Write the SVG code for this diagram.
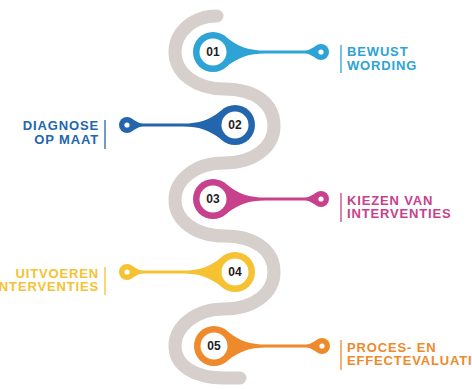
<svg xmlns="http://www.w3.org/2000/svg" xmlns:xlink="http://www.w3.org/1999/xlink" width="472" height="389" viewBox="0 0 472 389">
  <style>
    .band { fill: none; stroke: #D6CFCC; stroke-width: 13; stroke-linecap: round; }
    .lbl { font-family: "Liberation Sans", Arial, sans-serif; font-weight: bold; font-size: 13px; letter-spacing: 0.85px; }
    .num { font-family: "Liberation Sans", Arial, sans-serif; font-weight: bold; font-size: 12px; fill: #1E1E1E; text-anchor: middle; }
    .end { text-anchor: end; }
    .c1 { fill: #2EA3D6; } .s1 { stroke: #2EA3D6; }
    .c2 { fill: #2366AE; } .s2 { stroke: #2366AE; }
    .c3 { fill: #C8418C; } .s3 { stroke: #C8418C; }
    .c4 { fill: #F6C231; } .s4 { stroke: #F6C231; }
    .c5 { fill: #EE8A2B; } .s5 { stroke: #EE8A2B; }
    .bar { stroke-width: 1.3; }
  </style>
  <defs>
    <g id="pin">
      <path d="M 14,-14.3 C 26,-5 36,-1.5 52,-1.5 L 92,-1.5 C 97,-1.5 100,-5 104,-6.5 L 104,6.5 C 100,5 97,1.5 92,1.5 L 52,1.5 C 36,1.5 26,5 14,14.3 Z"/>
      <circle cx="0" cy="0" r="20"/>
      <circle cx="108" cy="0" r="8"/>
      <circle cx="0" cy="0" r="13.5" fill="#FFFFFF"/>
      <circle cx="108" cy="0" r="2.6" fill="#FFFFFF"/>
    </g>
  </defs>
  <rect width="472" height="389" fill="#FFFFFF"/>

  <g id="connectors">
    <path class="band" d="M 217 16 C 192 16 175 33 175 52 C 175 73 196 89 224 89 C 256 89 274 104 274 126 C 274 147 254 163 224 163 C 195 163 175 180 175 200 C 175 220 195 236 224 236 C 256 236 274 251 274 272 C 274 293 254 309 224 309 C 195 309 175 327 175 346 C 175 366 195 378 224 378 L 240 378"/>
  </g>

  <g id="node-01">
    <use xlink:href="#pin" class="c1" transform="translate(213,52)"/>
    <text class="num" x="213" y="56.3">01</text>
    <line class="bar s1" x1="341" y1="45" x2="341" y2="73"/>
    <text class="lbl c1" x="347" y="56.3">BEWUST</text>
    <text class="lbl c1" x="347" y="69.8">WORDING</text>
  </g>

  <g id="node-02">
    <use xlink:href="#pin" class="c2" transform="translate(235,125) scale(-1,1)"/>
    <text class="num" x="235" y="129.3">02</text>
    <line class="bar s2" x1="105" y1="120" x2="105" y2="149"/>
    <text class="lbl c2 end" x="99" y="130.3">DIAGNOSE</text>
    <text class="lbl c2 end" x="99" y="144.3">OP MAAT</text>
  </g>

  <g id="node-03">
    <use xlink:href="#pin" class="c3" transform="translate(213,199)"/>
    <text class="num" x="213" y="203.3">03</text>
    <line class="bar s3" x1="341" y1="193" x2="341" y2="222"/>
    <text class="lbl c3" x="347" y="204.8">KIEZEN VAN</text>
    <text class="lbl c3" x="347" y="218.3">INTERVENTIES</text>
  </g>

  <g id="node-04">
    <use xlink:href="#pin" class="c4" transform="translate(235,272) scale(-1,1)"/>
    <text class="num" x="235" y="276.3">04</text>
    <line class="bar s4" x1="105" y1="267" x2="105" y2="295"/>
    <text class="lbl c4 end" x="99" y="277.8">UITVOEREN</text>
    <text class="lbl c4 end" x="99" y="291.3">INTERVENTIES</text>
  </g>

  <g id="node-05">
    <use xlink:href="#pin" class="c5" transform="translate(214,346)"/>
    <text class="num" x="214" y="350.3">05</text>
    <line class="bar s5" x1="341" y1="340" x2="341" y2="370"/>
    <text class="lbl c5" x="347" y="351.8">PROCES- EN</text>
    <text class="lbl c5" x="347" y="365.3">EFFECTEVALUATIE</text>
  </g>
</svg>
